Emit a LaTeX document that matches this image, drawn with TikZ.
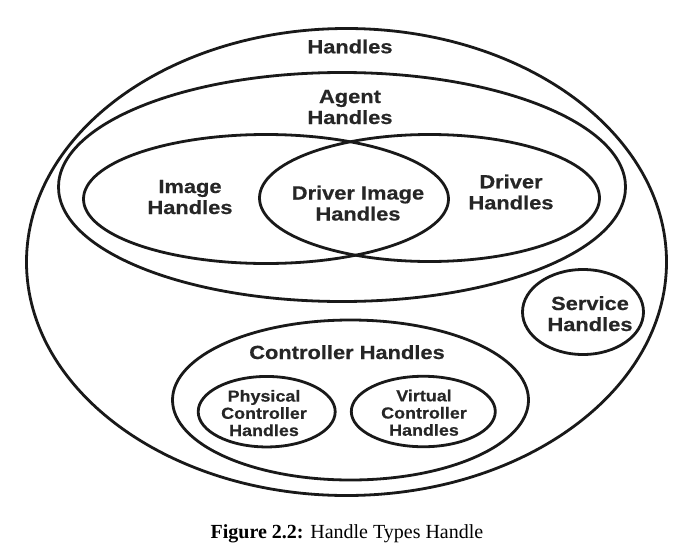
\documentclass[tikz,border=0pt]{standalone}
\usepackage{fontspec}
\usetikzlibrary{shapes.geometric}
\setmainfont{Liberation Serif}
\newfontfamily\labbig[FakeStretch=1.15, BoldFeatures={FakeBold=0.6}]{Liberation Sans}
\newfontfamily\labsmall[FakeStretch=1.12, BoldFeatures={FakeBold=0.6}]{Liberation Sans}
\tikzset{
  set/.style={draw=black!90, line width=2.8pt, ellipse, inner sep=0pt, fill=none},
  big/.style={anchor=base, align=center, text=black!85, font=\labbig\bfseries\fontsize{19}{21}\selectfont},
  small/.style={anchor=base, align=center, text=black!85, font=\labsmall\bfseries\fontsize{16}{17.2}\selectfont},
}
\begin{document}
\begin{tikzpicture}[x=1pt,y=-1pt]
\useasboundingbox (0,0) rectangle (696,549);
\node[set, minimum width=640pt, minimum height=467pt] (outer) at (346.5,262) {};
\node[set, minimum width=567pt, minimum height=229pt] (agent) at (342,187) {};
\node[set, minimum width=365pt, minimum height=129pt] (image) at (266,199) {};
\node[set, minimum width=340pt, minimum height=127pt] (driver) at (429.5,198) {};
\node[set, minimum width=121pt, minimum height=85pt] (service) at (583,312) {};
\node[set, minimum width=356pt, minimum height=160pt] (ctrl) at (350.5,400) {};
\node[set, minimum width=137pt, minimum height=70.5pt] (phys) at (266.7,411.7) {};
\node[set, minimum width=144pt, minimum height=70.5pt] (virt) at (423.3,411.5) {};

\node[big] (tHandles) at (350,53.3) {Handles};
\node[big] (tAgent) at (350,124) {Agent\\Handles};
\node[big] (tImage) at (190,214) {Image\\Handles};
\node[big] (tDrvImg) at (358,220.5) {Driver Image\\Handles};
\node[big] (tDriver) at (511,209.3) {Driver\\Handles};
\node[big] (tService) at (590,331) {Service\\Handles};
\node[big] (tCtrl) at (347,359) {Controller Handles};
\node[small] (tPhys) at (264,436) {Physical\\Controller\\Handles};
\node[small] (tVirt) at (424,435.7) {Virtual\\Controller\\Handles};

\node[anchor=base, font=\fontsize{20}{22}\selectfont] (caption) at (347,538) {\textbf{Figure 2.2:} Handle Types Handle};
\end{tikzpicture}
\end{document}
